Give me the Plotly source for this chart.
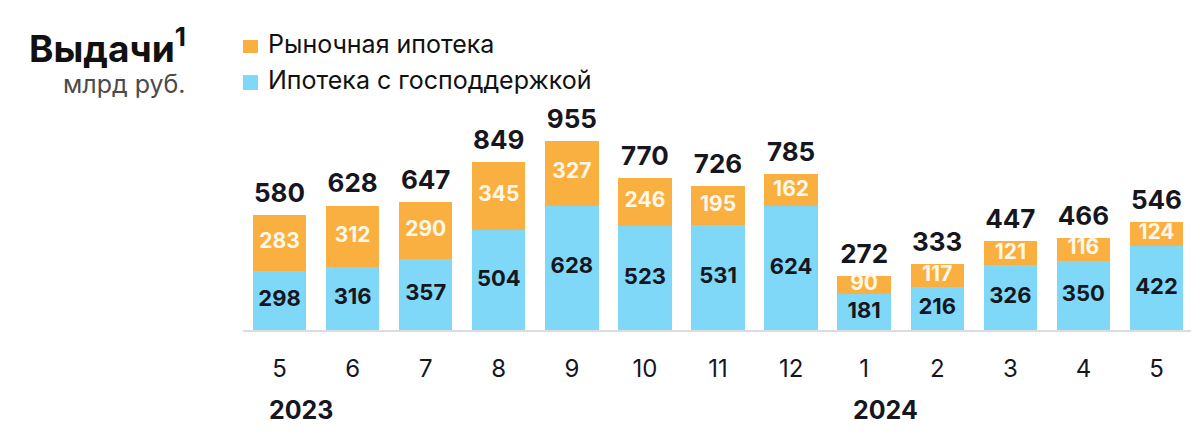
import plotly.graph_objects as go

months = ["5", "6", "7", "8", "9", "10", "11", "12", "1", "2", "3", "4", "5"]
gov = [298, 316, 357, 504, 628, 523, 531, 624, 181, 216, 326, 350, 422]
market = [283, 312, 290, 345, 327, 246, 195, 162, 90, 117, 121, 116, 124]
totals = [580, 628, 647, 849, 955, 770, 726, 785, 272, 333, 447, 466, 546]
years = ["2023", "2024"]
year_start_idx = [0, 8]
legend_names = ["Рыночная ипотека", "Ипотека с господдержкой"]

FONT = "Inter"
ORANGE = "#F9B040"
BLUE = "#80D8F8"
DARK = "#16161f"

x = list(range(len(months)))

fig = go.Figure()
fig.add_trace(go.Bar(x=x, y=gov, name=legend_names[1], marker=dict(color=BLUE, line=dict(width=0)),
                     hoverinfo="skip"))
fig.add_trace(go.Bar(x=x, y=market, name=legend_names[0], marker=dict(color=ORANGE, line=dict(width=0)),
                     hoverinfo="skip"))

# inner labels
fig.add_trace(go.Scatter(x=x, y=[g / 2 for g in gov], mode="text", text=[str(v) for v in gov],
                         textfont=dict(family=FONT, size=22, color=DARK, weight="bold"),
                         cliponaxis=False, hoverinfo="skip"))
fig.add_trace(go.Scatter(x=x, y=[g + m / 2 for g, m in zip(gov, market)], mode="text",
                         text=[str(v) for v in market],
                         textfont=dict(family=FONT, size=21, color="#FFF7E8", weight="bold"),
                         cliponaxis=False, hoverinfo="skip"))
# totals (invisible marker pushes the text a little higher above the bar)
fig.add_trace(go.Scatter(x=x, y=[g + m for g, m in zip(gov, market)], mode="markers+text",
                         text=[str(v) for v in totals],
                         marker=dict(size=9, color="rgba(0,0,0,0)"),
                         textposition="top center", cliponaxis=False,
                         textfont=dict(family=FONT, size=26, color=DARK, weight="bold"),
                         hoverinfo="skip"))

for yr, idx in zip(years, year_start_idx):
    fig.add_annotation(x=idx, y=0, xref="x", yref="paper", text=yr, showarrow=False,
                       xanchor="left", yanchor="middle", xshift=-13, yshift=-80,
                       font=dict(family=FONT, size=25, color=DARK, weight="bold"))

# title block
fig.add_annotation(x=-0.058, y=1.35, xref="paper", yref="paper", text="Выдачи<sup>1</sup>", showarrow=False,
                   xanchor="right", yanchor="middle",
                   font=dict(family=FONT, size=37, color="#111111", weight="bold"))
fig.add_annotation(x=-0.058, y=1.17, xref="paper", yref="paper", text="млрд руб.", showarrow=False,
                   xanchor="right", yanchor="middle",
                   font=dict(family=FONT, size=25, color="#4a4a4a"))

# legend (drawn manually to match layout)
leg_colors = [ORANGE, BLUE]
leg_sq_y = [(1.319, 1.381), (1.143, 1.214)]
leg_txt_y = [1.362, 1.19]
for name, col, (y0, y1), ty in zip(legend_names, leg_colors, leg_sq_y, leg_txt_y):
    fig.add_shape(type="rect", xref="paper", yref="paper", x0=0.0, x1=0.0158, y0=y0, y1=y1,
                  fillcolor=col, line=dict(width=0))
    fig.add_annotation(x=0.0242, y=ty, xref="paper", yref="paper", text=name, showarrow=False,
                       xanchor="left", yanchor="middle",
                       font=dict(family=FONT, size=25, color="#111111"))

fig.update_layout(
    width=1199, height=445,
    margin=dict(l=235, r=14, t=112, b=123, autoexpand=False),
    barmode="stack", bargap=0.27,
    plot_bgcolor="white", paper_bgcolor="white",
    showlegend=False,
    xaxis=dict(tickmode="array", tickvals=x, ticktext=months, range=[-0.5, len(months) - 0.5],
               showgrid=False, zeroline=False, showline=True, linecolor="#dcdcdc", linewidth=1.5,
               ticks="", ticklabelstandoff=16,
               tickfont=dict(family=FONT, size=24, color=DARK)),
    yaxis=dict(range=[0, 1060], visible=False, showgrid=False, zeroline=False),
    font=dict(family=FONT),
)

fig.write_html("out.html")
